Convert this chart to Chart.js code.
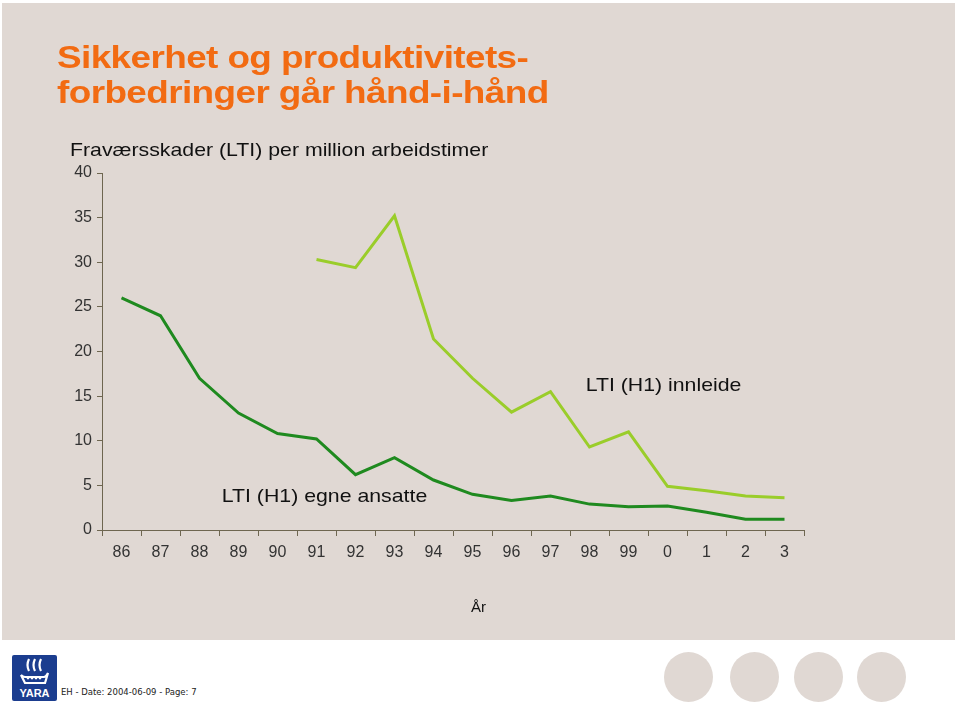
<!DOCTYPE html>
<html>
<head>
<meta charset="utf-8">
<script src="https://cdn.jsdelivr.net/npm/chart.js@4"></script>
<style>
  html, body { margin: 0; padding: 0; width: 960px; height: 717px; background: #fff; overflow: hidden; }
  #slide { position: absolute; left: 2px; top: 3px; width: 953px; height: 637px; background: #e0d8d3; }
  #chart { position: absolute; left: 0; top: 0; }
  .title { position: absolute; left: 57px; top: 40px; color: #f26b12; font: bold 31px "Liberation Sans", Arial, sans-serif; line-height: 35px; letter-spacing: -0.5px; transform: scaleX(1.19); transform-origin: left top; white-space: nowrap; }
  .sub { position: absolute; left: 70px; top: 139px; color: #111; font: 19px "Liberation Sans", Arial, sans-serif; transform: scaleX(1.12); transform-origin: left top; white-space: nowrap; }
  .logo { position: absolute; left: 12px; top: 655px; width: 45px; height: 46px; background: #1b3d8f; border-radius: 2px; }
  .logo span { position: absolute; left: 0; width: 45px; bottom: 2px; text-align: center; color: #fff; font: bold 11px "Liberation Sans", Arial, sans-serif; }
  .foot { position: absolute; left: 61px; top: 687px; font: 8.5px "DejaVu Sans", Verdana, sans-serif; color: #222; }
  .dot { position: absolute; top: 652px; width: 49px; height: 50px; border-radius: 50%; background: #e0d8d3; }
</style>
</head>
<body>
<div id="slide"></div>
<canvas id="chart" width="960" height="640"></canvas>
<div class="title">Sikkerhet og produktivitets-<br>forbedringer går hånd-i-hånd</div>
<div class="sub">Fraværsskader (LTI) per million arbeidstimer</div>
<div class="logo">
  <svg width="45" height="34" viewBox="0 0 45 34">
    <g fill="none" stroke="#fff" stroke-width="2.2">
      <path d="M17 4 q-3 6 0 12 M23 4 q-3 6 0 12 M29 4 q-3 6 0 12"/>
      <path d="M9 20 q2 2 4 2 h19 q2 0 4 -4 l-3 10 h-20 z"/>
    </g>
    <g fill="#fff">
      <circle cx="16" cy="23" r="1.4"/><circle cx="20" cy="23" r="1.4"/><circle cx="24" cy="23" r="1.4"/><circle cx="28" cy="23" r="1.4"/>
    </g>
  </svg>
  <span>YARA</span>
</div>
<div class="foot">EH - Date: 2004-06-09 - Page: 7</div>
<div class="dot" style="left:664px"></div>
<div class="dot" style="left:730px"></div>
<div class="dot" style="left:794px"></div>
<div class="dot" style="left:857px"></div>
<script>
const years = ['86', '87', '88', '89', '90', '91', '92', '93', '94', '95', '96', '97', '98', '99', '0', '1', '2', '3'];
const egneAnsatte = [26.0, 24.0, 17.0, 13.1, 10.8, 10.2, 6.2, 8.1, 5.6, 4.0, 3.3, 3.8, 2.9, 2.6, 2.7, 2.0, 1.2, 1.2];
const innleide = [null, null, null, null, null, 30.3, 29.4, 35.2, 21.4, 17.0, 13.2, 15.5, 9.3, 11.0, 4.9, 4.4, 3.8, 3.6];
const yTicks = [0, 5, 10, 15, 20, 25, 30, 35, 40];

const labelFont = '"Liberation Sans", Arial, sans-serif';

function wideText(ctx, text, x, y, sx) {
  ctx.save();
  ctx.translate(x, y);
  ctx.scale(sx, 1);
  ctx.fillText(text, 0, 0);
  ctx.restore();
}

// series names and the x title, drawn as text on the chart
const seriesLabels = {
  id: 'seriesLabels',
  afterDatasetsDraw(chart) {
    const { ctx, scales: { x, y } } = chart;
    ctx.save();
    ctx.fillStyle = '#111';
    ctx.textAlign = 'center';
    ctx.textBaseline = 'middle';
    ctx.font = '19px ' + labelFont;
    wideText(ctx, 'LTI (H1) innleide', x.getPixelForValue(14) - 4, y.getPixelForValue(16.2), 1.12);
    wideText(ctx, 'LTI (H1) egne ansatte', x.getPixelForValue(5) + 8, y.getPixelForValue(3.7), 1.12);
    ctx.font = '15px ' + labelFont;
    wideText(ctx, 'År', x.getPixelForValue(9) + 6, y.bottom + 78, 1.0);
    ctx.restore();
  }
};

new Chart(document.getElementById('chart'), {
  type: 'line',
  data: {
    labels: years,
    datasets: [
      {
        label: 'LTI (H1) egne ansatte',
        data: egneAnsatte,
        borderColor: '#1f8a1f',
        borderWidth: 3,
        pointRadius: 0,
        tension: 0,
      },
      {
        label: 'LTI (H1) innleide',
        data: innleide,
        borderColor: '#9acd2a',
        borderWidth: 3,
        pointRadius: 0,
        tension: 0,
      },
    ],
  },
  options: {
    responsive: false,
    animation: false,
    layout: { padding: { left: 62, top: 173, right: 156, bottom: 0 } },
    plugins: { legend: { display: false }, tooltip: { enabled: false } },
    scales: {
      x: {
        offset: true,
        grid: { display: true, drawOnChartArea: false, offset: true, tickLength: 6, color: '#6e6650' },
        border: { color: '#6e6650', width: 1 },
        ticks: { color: '#333', font: { family: labelFont, size: 16 }, padding: 7, maxRotation: 0, autoSkip: false },
        afterFit(scale) { scale.height = 110; },
      },
      y: {
        min: 0,
        max: 40,
        afterBuildTicks(scale) { scale.ticks = yTicks.map(v => ({ value: v })); },
        grid: { display: true, drawOnChartArea: false, tickLength: 5, color: '#6e6650' },
        border: { color: '#6e6650', width: 1 },
        ticks: { color: '#333', font: { family: labelFont, size: 16 }, padding: 5 },
        afterFit(scale) { scale.width = 40; },
      },
    },
  },
  plugins: [seriesLabels],
});
</script>
</body>
</html>
